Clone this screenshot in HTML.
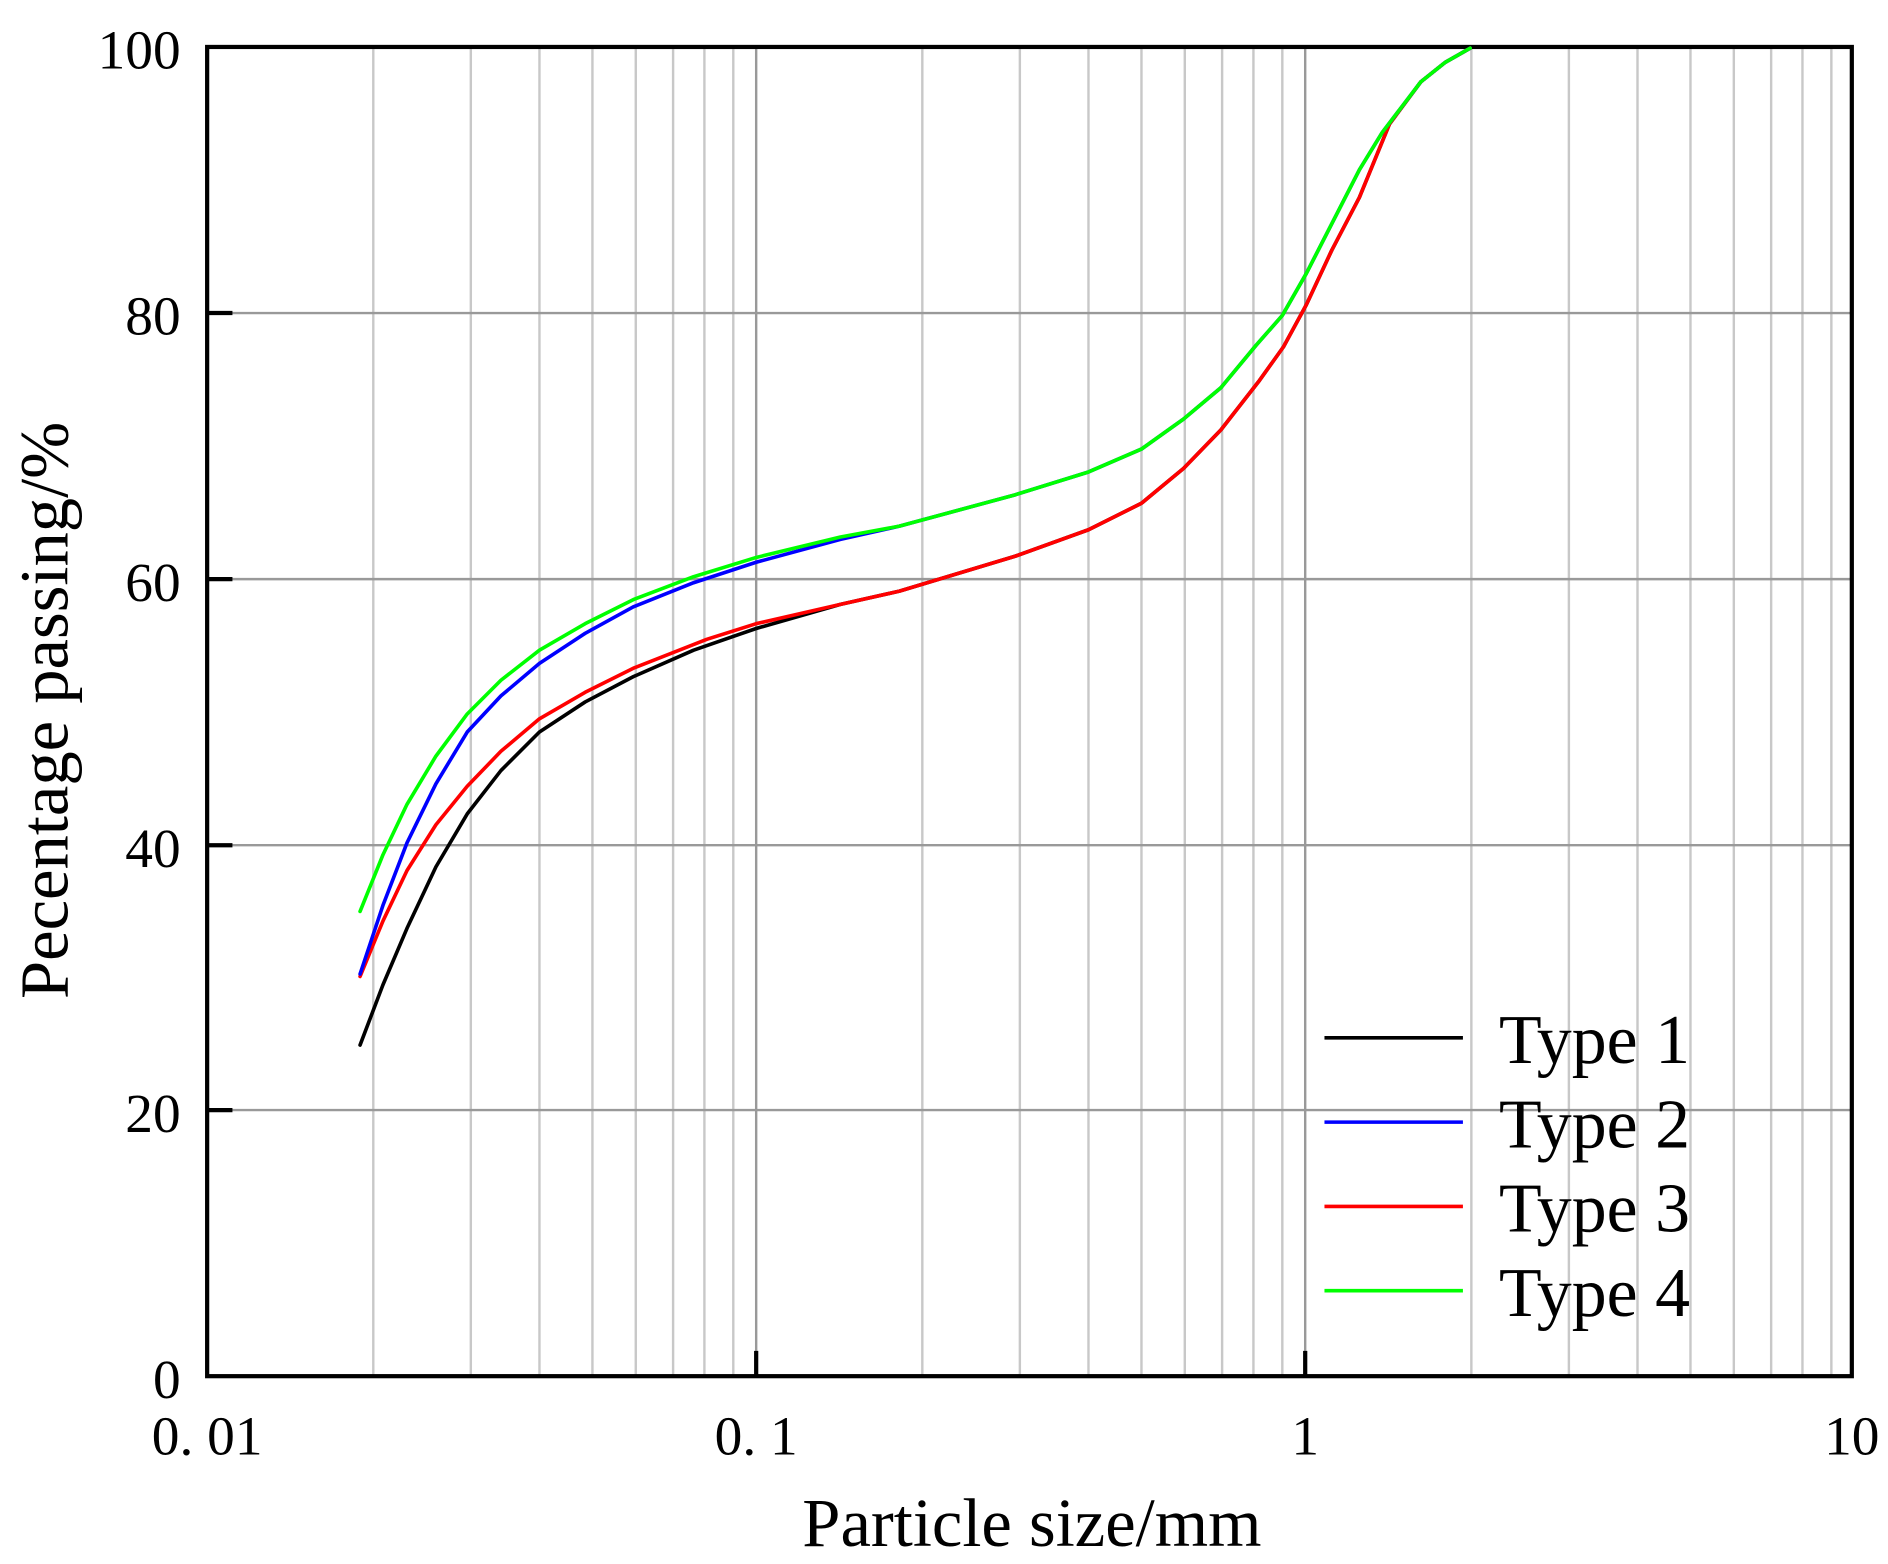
<!DOCTYPE html>
<html><head><meta charset="utf-8"><style>html,body{margin:0;padding:0;background:#fff}svg{display:block}</style></head>
<body>
<svg width="1888" height="1564" viewBox="0 0 1568 1299" xmlns="http://www.w3.org/2000/svg" font-family="Liberation Serif, serif">
<rect width="1568" height="1299" fill="#fff"/>
<g stroke="#c8c8c8" stroke-width="2">
<line x1="310" y1="39" x2="310" y2="1143"/><line x1="391" y1="39" x2="391" y2="1143"/><line x1="448" y1="39" x2="448" y2="1143"/><line x1="492" y1="39" x2="492" y2="1143"/><line x1="528" y1="39" x2="528" y2="1143"/><line x1="559" y1="39" x2="559" y2="1143"/><line x1="585" y1="39" x2="585" y2="1143"/><line x1="609" y1="39" x2="609" y2="1143"/>
<line x1="766" y1="39" x2="766" y2="1143"/><line x1="847" y1="39" x2="847" y2="1143"/><line x1="904" y1="39" x2="904" y2="1143"/><line x1="948" y1="39" x2="948" y2="1143"/><line x1="984" y1="39" x2="984" y2="1143"/><line x1="1015" y1="39" x2="1015" y2="1143"/><line x1="1041" y1="39" x2="1041" y2="1143"/><line x1="1065" y1="39" x2="1065" y2="1143"/>
<line x1="1222" y1="39" x2="1222" y2="1143"/><line x1="1303" y1="39" x2="1303" y2="1143"/><line x1="1360" y1="39" x2="1360" y2="1143"/><line x1="1404" y1="39" x2="1404" y2="1143"/><line x1="1440" y1="39" x2="1440" y2="1143"/><line x1="1471" y1="39" x2="1471" y2="1143"/><line x1="1497" y1="39" x2="1497" y2="1143"/><line x1="1521" y1="39" x2="1521" y2="1143"/>
</g>
<g stroke="#999" stroke-width="2">
<line x1="628" y1="39" x2="628" y2="1143"/><line x1="1084" y1="39" x2="1084" y2="1143"/>
<line x1="172" y1="260" x2="1538" y2="260"/><line x1="172" y1="481" x2="1538" y2="481"/><line x1="172" y1="702" x2="1538" y2="702"/><line x1="172" y1="922" x2="1538" y2="922"/>
</g>
<g stroke="#000" stroke-width="3.5">
<line x1="172" y1="260" x2="193" y2="260"/><line x1="172" y1="481" x2="193" y2="481"/><line x1="172" y1="702" x2="193" y2="702"/><line x1="172" y1="922" x2="193" y2="922"/>
<line x1="628" y1="1143" x2="628" y2="1122"/><line x1="1084" y1="1143" x2="1084" y2="1122"/>
</g>
<rect x="172" y="39" width="1366" height="1104" fill="none" stroke="#000" stroke-width="3.5"/>
<g fill="none" stroke-width="3" stroke-linejoin="round" stroke-linecap="round">
<polyline stroke="#000" points="299,868 318,818 338,771 362,720 388,676 416,640 448,608 486,583 526,562 576,540 628,522 698,502 747,491 843,462 904,440 948,418 983,389 1014,357 1046,316 1066,288 1085,253 1106,208 1129,164 1154,103 1180,68 1200,52 1221,40"/>
<polyline stroke="#f00" points="299,811 318,765 338,723 362,685 388,653 416,624 448,597 486,575 526,555 587,531 628,518 698,502 747,491 843,462 904,440 948,418 983,389 1014,357 1046,316 1066,288 1085,253 1106,208 1129,164 1154,103 1180,68 1200,52 1221,40"/>
<polyline stroke="#00f" points="299,809 318,752 338,700 362,651 388,608 416,578 448,551 486,526 526,504 576,484 628,467 698,448 747,437 843,411 904,392 948,373 983,348 1014,322 1043,287 1065,262 1085,227 1106,186 1129,141 1148,110 1180,68 1200,52 1221,40"/>
<polyline stroke="#0f0" points="299,757 318,710 338,668 362,628 388,593 416,565 448,540 486,518 526,498 576,479 628,463 698,446 747,437 843,411 904,392 948,373 983,348 1014,322 1043,287 1065,262 1085,227 1106,186 1129,141 1148,110 1180,68 1200,52 1221,40"/>
</g>
<g font-size="46" fill="#000" text-anchor="end">
<text x="150" y="57">100</text><text x="150" y="278">80</text><text x="150" y="499">60</text><text x="150" y="720">40</text><text x="150" y="940">20</text><text x="150" y="1161">0</text>
</g>
<g font-size="46" fill="#000" text-anchor="middle">
<text x="172" y="1208">0. 01</text><text x="628" y="1208">0. 1</text><text x="1084" y="1208">1</text><text x="1538" y="1208">10</text>
</g>
<text x="857" y="1284" font-size="57" text-anchor="middle">Particle size/mm</text>
<text transform="translate(56,590) rotate(-90)" font-size="57" text-anchor="middle">Pecentage passing/%</text>
<g stroke-width="3">
<line x1="1100" y1="862" x2="1215" y2="862" stroke="#000"/>
<line x1="1100" y1="932" x2="1215" y2="932" stroke="#00f"/>
<line x1="1100" y1="1002" x2="1215" y2="1002" stroke="#f00"/>
<line x1="1100" y1="1072" x2="1215" y2="1072" stroke="#0f0"/>
</g>
<g font-size="58" fill="#000">
<text x="1245" y="883">Type 1</text><text x="1245" y="953">Type 2</text><text x="1245" y="1023">Type 3</text><text x="1245" y="1093">Type 4</text>
</g>
</svg>
</body></html>
